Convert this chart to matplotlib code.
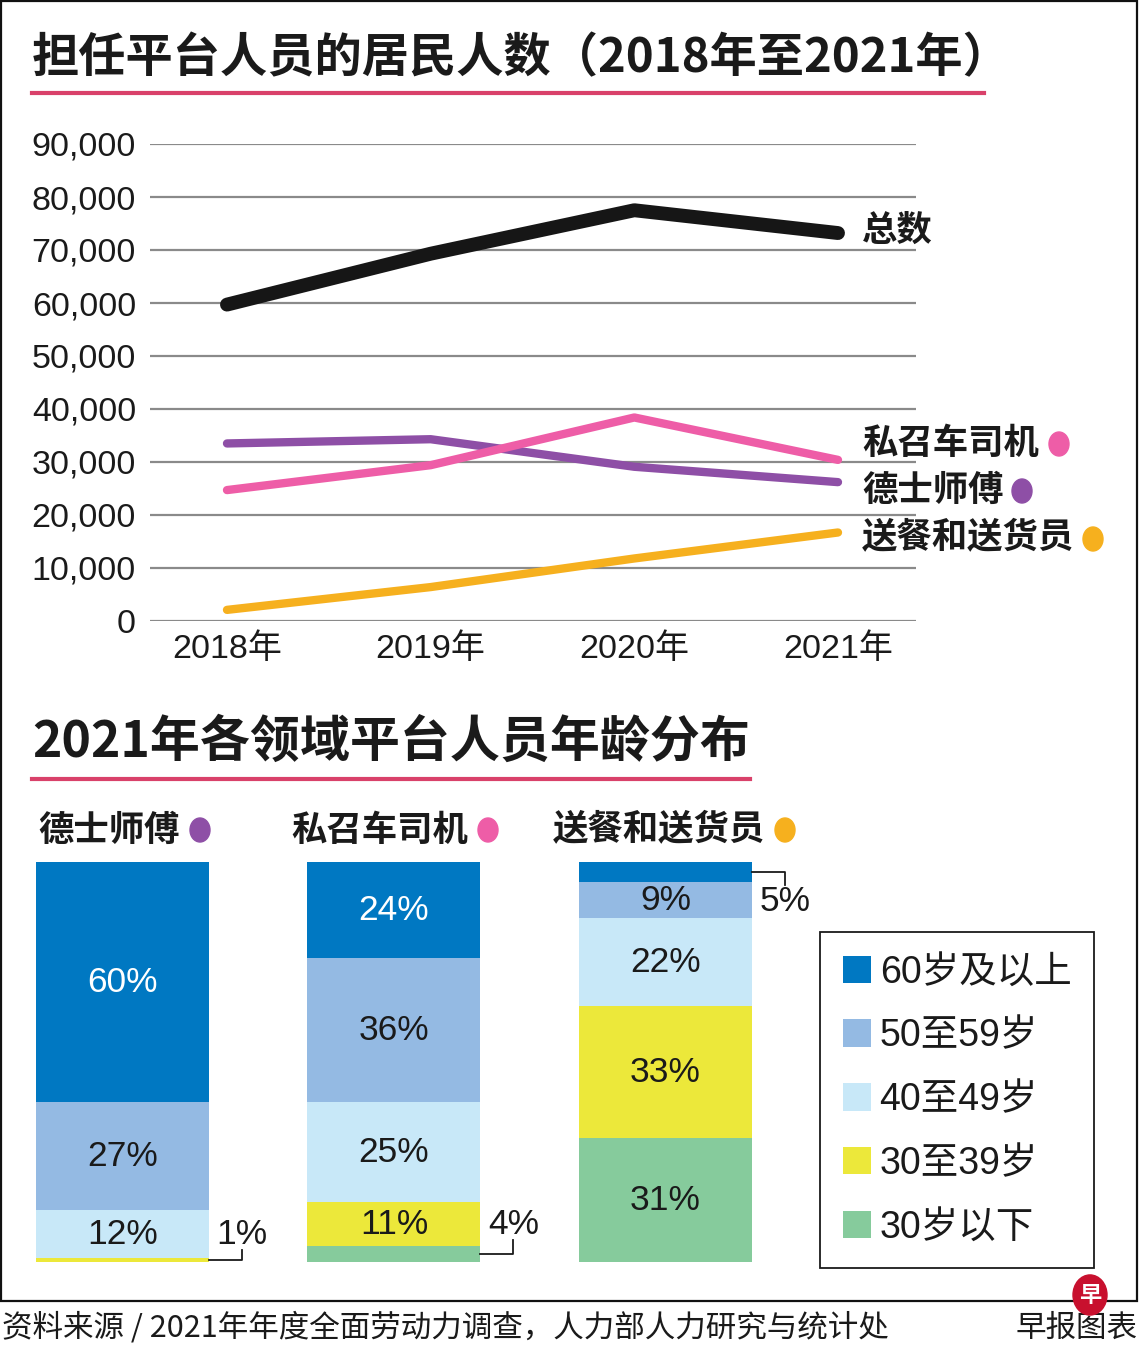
import matplotlib.pyplot as plt
from matplotlib.patches import Patch, Rectangle, Ellipse, Circle
from matplotlib.lines import Line2D

# 数据
years = ['2018年', '2019年', '2020年', '2021年']
total = [59700, 69300, 77500, 73200]
taxi = [33500, 34300, 29100, 26200]
private_hire = [24700, 29400, 38400, 30400]
delivery = [2100, 6400, 11800, 16700]

groups = ['德士师傅', '私召车司机', '送餐和送货员']
age_labels = ['60岁及以上', '50至59岁', '40至49岁', '30至39岁', '30岁以下']
age_60 = [60, 24, 5]
age_50 = [27, 36, 9]
age_40 = [12, 25, 22]
age_30 = [1, 11, 33]
age_u30 = [0, 4, 31]

# 颜色
C_TOTAL = '#161616'
C_TAXI = '#8E4FA6'
C_PH = '#EE5DA7'
C_DEL = '#F6B01E'
C_RED = '#D9416A'
age_colors = ['#0078C2', '#94BAE3', '#C8E8F8', '#ECE83A', '#86CB9C']

CJK = ['Noto Sans CJK SC', 'DejaVu Sans']
MIX = ['Liberation Sans', 'Noto Sans CJK SC', 'DejaVu Sans']
plt.rcParams['font.family'] = MIX

W, H = 1140, 1345
fig = plt.figure(figsize=(W / 100, H / 100), dpi=100)


def fx(x):
    return x / W


def fy(y):
    return 1 - y / H


# 外框
fig.patches.append(Rectangle((fx(1), fy(1301)), fx(1136), (1300) / H,
                             transform=fig.transFigure, fill=False,
                             edgecolor='#111', lw=1.6))

# 标题
fig.text(fx(32), fy(58), '担任平台人员的居民人数（2018年至2021年）',
         family=CJK, weight='bold', fontsize=34, color='#1a1a1a', va='center')
fig.lines.append(Line2D([fx(32), fx(984)], [fy(93), fy(93)], color=C_RED,
                        lw=3, transform=fig.transFigure))

fig.text(fx(32), fy(742), '2021年各领域平台人员年龄分布',
         family=CJK, weight='bold', fontsize=36, color='#1a1a1a', va='center')
fig.lines.append(Line2D([fx(32), fx(750)], [fy(779), fy(779)], color=C_RED,
                        lw=3, transform=fig.transFigure))

# 折线图
ax = fig.add_axes([fx(150), fy(621), (916 - 150) / W, (621 - 144) / H])
x = range(len(years))
ax.plot(x, delivery, color=C_DEL, lw=6, solid_capstyle='round', solid_joinstyle='round', clip_on=False, zorder=3)
ax.plot(x, taxi, color=C_TAXI, lw=6, solid_capstyle='round', solid_joinstyle='round', clip_on=False, zorder=3)
ax.plot(x, private_hire, color=C_PH, lw=6, solid_capstyle='round', solid_joinstyle='round', clip_on=False, zorder=4)
ax.plot(x, total, color=C_TOTAL, lw=10, solid_capstyle='round', solid_joinstyle='round', clip_on=False, zorder=5)

ax.set_xlim(-0.378, 3.383)
ax.set_ylim(0, 90000)
ax.set_yticks(range(0, 90001, 10000))
ax.set_yticklabels([f'{v:,}' for v in range(0, 90001, 10000)])
ax.set_xticks(list(x))
ax.set_xticklabels(years)
ax.tick_params(axis='y', length=0, pad=10, labelsize=24.5, labelcolor='#1a1a1a')
ax.tick_params(axis='x', length=0, pad=9, labelsize=24.5, labelcolor='#1a1a1a')
ax.grid(axis='y', color='#8a8a8a', lw=1.6)
ax.set_axisbelow(True)
for s in ax.spines.values():
    s.set_visible(False)

# 线标签
fig.text(fx(862), fy(230), '总数', family=CJK, weight='bold', fontsize=25.5,
         color='#1a1a1a', va='center')
line_labels = [('私召车司机', 443, C_PH, 1059),
               ('德士师傅', 490, C_TAXI, 1022),
               ('送餐和送货员', 538, C_DEL, 1093)]
for txt, yy, col, dx in line_labels:
    fig.text(fx(862), fy(yy), txt, family=CJK, weight='bold', fontsize=25.5,
             color='#1a1a1a', va='center')
    fig.patches.append(Ellipse((fx(dx), fy(yy + 1)), 20 / W, 24 / H,
                               transform=fig.transFigure, color=col))

# 分组标题
sub_pos = [(38, 200), (291, 488), (553, 785)]
sub_cols = [C_TAXI, C_PH, C_DEL]
for g, (x0, dx), col in zip(groups, sub_pos, sub_cols):
    fig.text(fx(x0), fy(830), g, family=CJK, weight='bold', fontsize=25.5,
             color='#1a1a1a', va='center')
    fig.patches.append(Ellipse((fx(dx), fy(830)), 20 / W, 24 / H,
                               transform=fig.transFigure, color=col))

# 堆叠柱状图
bx = fig.add_axes([fx(36), fy(1262), (752 - 36) / W, (1262 - 862) / H])
half = 173 / 271.5 / 2
bx.set_xlim(-half, 2 + half)
bx.set_ylim(0, 100)
bx.axis('off')

stack = [age_u30, age_30, age_40, age_50, age_60]
stack_cols = age_colors[::-1]
bottom = [0, 0, 0]
for vals, col in zip(stack, stack_cols):
    bx.bar(range(3), vals, width=2 * half, bottom=bottom, color=col,
           clip_on=False)
    for i, v in enumerate(vals):
        if v >= 9:
            tc = 'white' if col == age_colors[0] else '#1a1a1a'
            bx.text(i, bottom[i] + v / 2, f'{v}%', ha='center', va='center',
                    fontsize=25.5, color=tc)
    bottom = [b + v for b, v in zip(bottom, vals)]

# 小比例引线
small = [(0, 0, 1, 3.0, 6.8), (1, 0, 4, 5.5, 9.5), (2, 95, 5, 94.2, 90.2)]
for i, b, v, yend, ylab in small:
    xe = i + half
    xl = xe + 0.121
    yc = b + v / 2
    bx.plot([xe, xl, xl], [yc, yc, yend], color='#1a1a1a', lw=1.3,
            clip_on=False)
    bx.text(xl, ylab, f'{v}%', ha='center', va='center', fontsize=25.5,
            color='#1a1a1a', clip_on=False)

# 图例
handles = [Patch(facecolor=c, edgecolor='none', label=l)
           for c, l in zip(age_colors, age_labels)]
leg = bx.legend(handles=handles, loc='upper left',
                bbox_to_anchor=(fx(820), fy(932)), bbox_transform=fig.transFigure,
                frameon=True, fancybox=False, edgecolor='#1a1a1a',
                framealpha=1, fontsize=27, handlelength=0.75, handleheight=0.75,
                handletextpad=0.24, labelspacing=0.74, borderpad=0.6,
                borderaxespad=0)
leg.get_frame().set_linewidth(1.3)
for t in leg.get_texts():
    t.set_color('#1a1a1a')

# 来源
fig.text(fx(2), fy(1328), '资料来源 / 2021年年度全面劳动力调查，人力部人力研究与统计处',
         family=CJK, fontsize=22, color='#1a1a1a', va='center')
fig.text(fx(1138), fy(1328), '早报图表', family=CJK, fontsize=22,
         color='#1a1a1a', va='center', ha='right')
fig.patches.append(Circle((fx(1090), fy(1295)), 17 / W, transform=fig.transFigure,
                          color='#C8102E', zorder=5))
fig.text(fx(1090), fy(1295), '早', family=CJK, weight='bold', fontsize=16,
         color='white', ha='center', va='center', zorder=6)

fig.savefig('out.png', dpi=100)
